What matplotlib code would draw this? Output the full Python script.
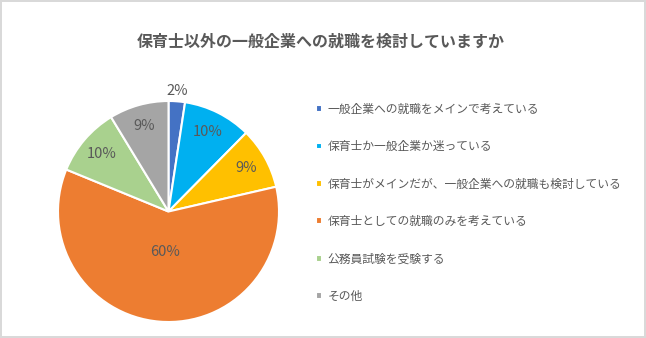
import matplotlib
matplotlib.use("Agg")
import matplotlib.pyplot as plt
import numpy as np

plt.rcParams["font.family"] = ["Noto Sans CJK JP", "DejaVu Sans"]

title = "保育士以外の一般企業への就職を検討していますか"
cats = ["一般企業への就職をメインで考えている", "保育士か一般企業か迷っている",
        "保育士がメインだが、一般企業への就職も検討している", "保育士としての就職のみを考えている",
        "公務員試験を受験する", "その他"]
vals = [2.4, 10.0, 9.0, 59.8, 10.1, 8.7]
cols = ["#4472C4", "#00B0F0", "#FFC000", "#ED7D31", "#A9D18E", "#A5A5A5"]
TXT = "#595959"

fig = plt.figure(figsize=(6.46, 3.38), dpi=100)
fig.patch.set_edgecolor("#D9D9D9"); fig.patch.set_linewidth(1.5)
ax = fig.add_axes([58 / 646, 16 / 338, 221 / 646, 221 / 338])
wedges, texts, auto = ax.pie(vals, colors=cols, startangle=90, counterclock=False,
                             autopct="%.0f%%", pctdistance=0.8,
                             wedgeprops=dict(edgecolor="white", linewidth=1.5),
                             textprops=dict(color=TXT, fontsize=10.5))
# Excel の配置に寄せる: 2% は外、60% は中心寄り
for i, d in [(0, 1.09), (3, 0.37)]:
    x, y = auto[i].get_position(); r = np.hypot(x, y)
    auto[i].set_position((x / r * d, y / r * d))
ax.set_xlim(-1, 1); ax.set_ylim(-1, 1)
ax.set_aspect("equal")

fig.text(0.497, 1 - 42 / 338, title, ha="center", va="center", fontsize=11.5,
         weight="bold", color=TXT)
leg = fig.legend(wedges, cats, loc="upper left", bbox_to_anchor=(305 / 646, 1 - 92 / 338),
                 frameon=False, fontsize=8.5, labelcolor=TXT, handlelength=0.5,
                 handleheight=0.5, handletextpad=0.5, labelspacing=2.07)
fig.savefig("out.png", dpi=100)
